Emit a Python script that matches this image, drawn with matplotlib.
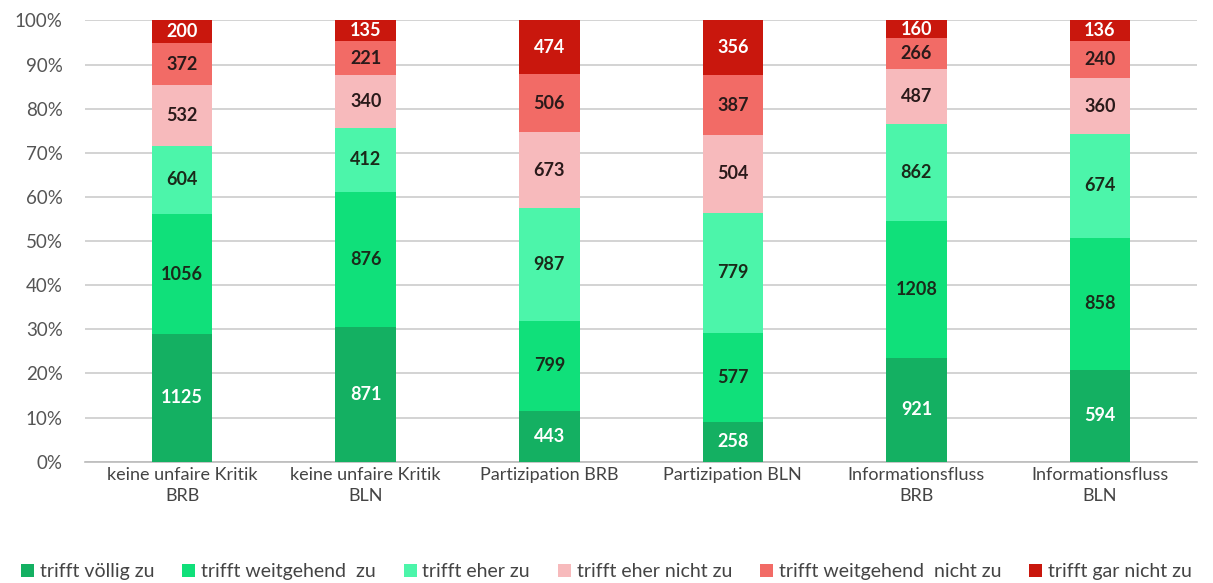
import matplotlib
matplotlib.use('Agg')
import numpy as np
import matplotlib.pyplot as plt

categories = ["keine unfaire Kritik\nBRB", "keine unfaire Kritik\nBLN",
              "Partizipation BRB", "Partizipation BLN",
              "Informationsfluss\nBRB", "Informationsfluss\nBLN"]
series_names = ["trifft völlig zu", "trifft weitgehend  zu", "trifft eher zu",
                "trifft eher nicht zu", "trifft weitgehend  nicht zu", "trifft gar nicht zu"]
voellig = [1125, 871, 443, 258, 921, 594]
weitgehend = [1056, 876, 799, 577, 1208, 858]
eher = [604, 412, 987, 779, 862, 674]
eher_nicht = [532, 340, 673, 504, 487, 360]
weitgehend_nicht = [372, 221, 506, 387, 266, 240]
gar_nicht = [200, 135, 474, 356, 160, 136]

colors = ["#14b062", "#10e07a", "#4cf5aa", "#f7babc", "#f26b66", "#c9170d"]
label_colors = ["white", "#1a2a1a", "#1a2a1a", "#2a1a1a", "#2a1a1a", "white"]

plt.rcParams['font.family'] = ['Lato', 'DejaVu Sans']

counts = np.array([voellig, weitgehend, eher, eher_nicht, weitgehend_nicht, gar_nicht], dtype=float)
shares = counts / counts.sum(axis=0) * 100

fig = plt.figure(figsize=(12.13, 5.83), dpi=100)
ax = fig.add_axes([0.070, 0.208, 0.917, 0.757])

x = np.arange(len(categories))
bottom = np.zeros(len(categories))
handles = []
for i in range(len(series_names)):
    bars = ax.bar(x, shares[i], 0.33, bottom=bottom, color=colors[i], zorder=3)
    handles.append(bars)
    for j in range(len(categories)):
        ax.text(x[j], bottom[j] + shares[i][j] / 2, "%d" % counts[i][j],
                ha='center', va='center', fontsize=13, fontweight='bold',
                color=label_colors[i], zorder=4)
    bottom += shares[i]

ax.set_ylim(0, 100)
ax.set_xlim(-0.53, len(categories) - 0.47)
ax.set_yticks(np.arange(0, 101, 10))
ax.set_yticklabels(["%d%%" % v for v in range(0, 101, 10)], fontsize=13.5, color="#555555")
ax.set_xticks(x)
ax.set_xticklabels(categories, fontsize=13, color="#444444", linespacing=1.35)
ax.tick_params(axis='y', length=0, pad=16)
ax.tick_params(axis='x', length=0, pad=4)
ax.yaxis.grid(True, color="#cccccc", linewidth=1.2, zorder=0)
for s in ['top', 'right', 'left']:
    ax.spines[s].set_visible(False)
ax.spines['bottom'].set_color("#bbbbbb")
ax.spines['bottom'].set_linewidth(1.2)

fig.legend(handles, series_names, loc='lower center', ncol=6, frameon=False,
           bbox_to_anchor=(0.5, -0.025), fontsize=14, handlelength=0.65, handleheight=0.65,
           handletextpad=0.3, columnspacing=1.45, labelcolor="#444444")

fig.savefig("out.png", dpi=100, facecolor="white")
